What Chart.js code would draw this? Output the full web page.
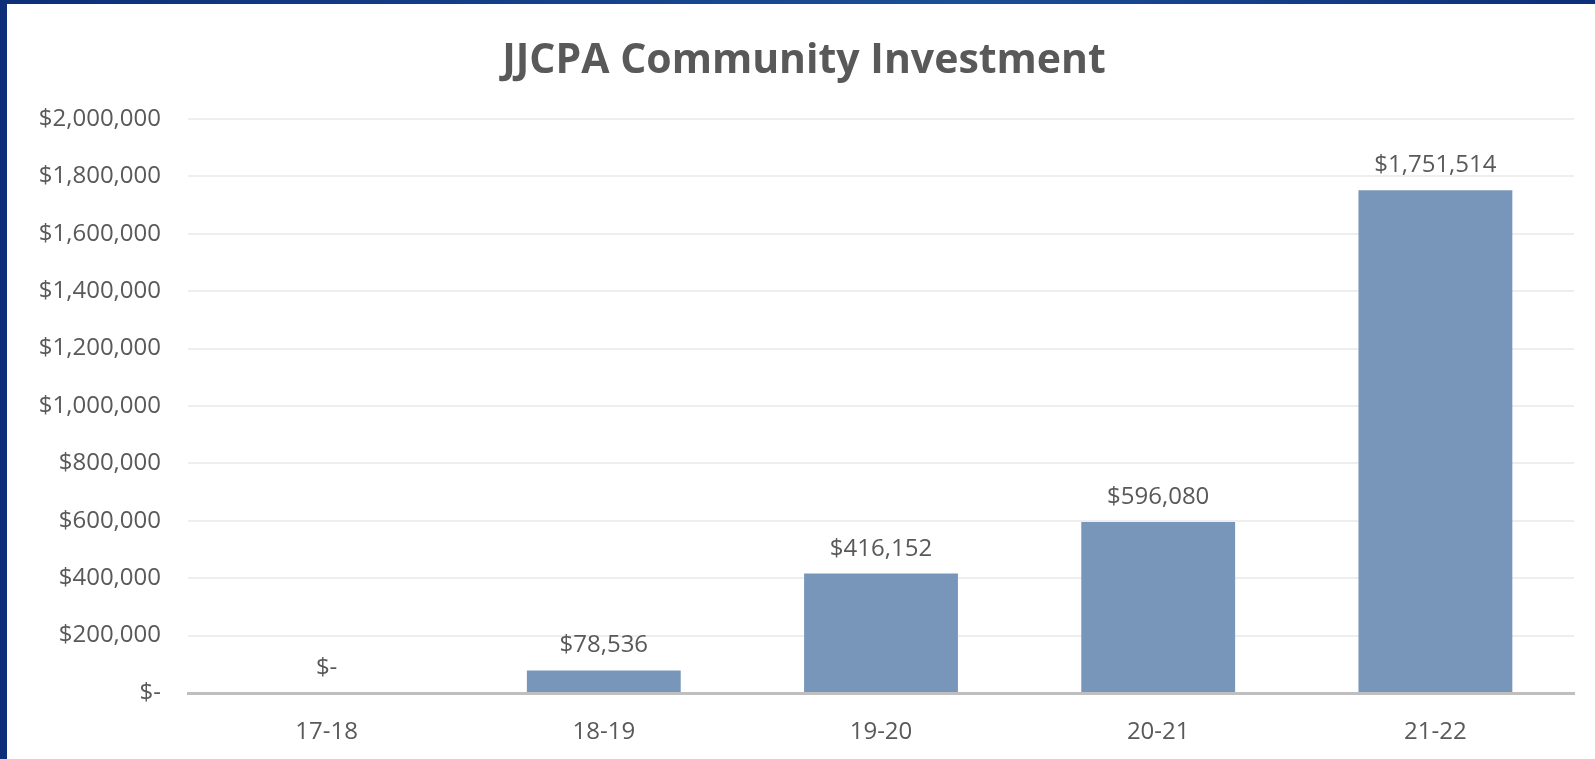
<!DOCTYPE html>
<html>
<head>
<meta charset="utf-8">
<script src="https://cdn.jsdelivr.net/npm/chart.js@4/dist/chart.umd.min.js"></script>
<style>
  html,body{margin:0;padding:0;}
  body{width:1595px;height:759px;background:linear-gradient(90deg,#0d2f7a,#1a4f95 60%,#0d2f7a);overflow:hidden;position:relative;}
  #box{position:absolute;left:7px;top:4px;width:1588px;height:755px;background:#fff;}
</style>
</head>
<body>
<div id="box"><canvas id="chartInvest"></canvas></div>
<script>
const chartTitle = 'JJCPA Community Investment';
const years = ['17-18','18-19','19-20','20-21','21-22'];
const investment = [0, 78536, 416152, 596080, 1751514];
const yMax = 2000000;
const yStep = 200000;

const money = v => v === 0 ? '$-' : '$' + Number(v).toLocaleString('en-US');
const FONT = '"Open Sans", Lato, sans-serif';
const GREY = '#595959';

// title centred over the whole box + value labels above the bars
const extras = {
  id:'extras',
  afterDatasetsDraw(chart){
    const ctx = chart.ctx;
    ctx.save();
    ctx.fillStyle = GREY;
    ctx.textAlign = 'center';
    ctx.textBaseline = 'alphabetic';
    ctx.font = 'bold 41px ' + FONT;
    ctx.fillText(chartTitle, chart.width/2 + 3, 69);
    ctx.font = '24px ' + FONT;
    chart.getDatasetMeta(0).data.forEach((bar,i)=>{
      ctx.fillText(money(investment[i]), bar.x, bar.y - 18);
    });
    ctx.restore();
  }
};

new Chart(document.getElementById('chartInvest'), {
  type:'bar',
  data:{ labels: years, datasets:[{ data: investment, backgroundColor:'#7896ba', categoryPercentage:1, barPercentage:0.555 }] },
  options:{
    responsive:true, maintainAspectRatio:false, animation:false,
    layout:{ padding:{ top:115, right:21, bottom:0, left:0 } },
    plugins:{ legend:{ display:false }, tooltip:{ enabled:false }, title:{ display:false } },
    scales:{
      x:{
        afterFit(s){ s.height = 66; },
        grid:{ display:false },
        border:{ color:'#bfbfbf', width:3 },
        ticks:{ color:GREY, font:{ family:FONT, size:24 }, padding:17 }
      },
      y:{
        min:0, max:yMax,
        afterFit(s){ s.width = 181; },
        grid:{ color:'#eeeeee', lineWidth:2, drawTicks:false },
        border:{ display:false },
        ticks:{ stepSize:yStep, color:GREY, font:{ family:FONT, size:24 }, padding:27, callback: v => money(v) }
      }
    }
  },
  plugins:[extras]
});
</script>
</body>
</html>
